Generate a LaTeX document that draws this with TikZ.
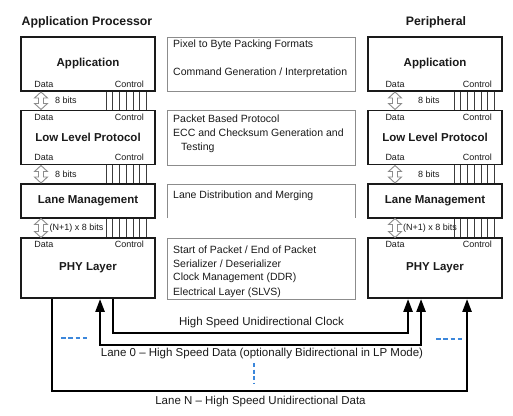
\documentclass[tikz,border=0pt]{standalone}
\usepackage{fontspec}
\setmainfont{Liberation Sans}
\usetikzlibrary{arrows.meta,calc}
\definecolor{ink}{HTML}{1A1A1A}
\definecolor{midgray}{HTML}{8C8C8C}
\definecolor{dashblue}{HTML}{3C87DB}
% hollow double arrow: center x, top y, bottom y
\newcommand\hollowarr[3]{%
  \draw[harr] (#1,#2) -- ++(6.5,6) -- ++(-4,0) -- (#1+2.5,#3-6) -- ++(4,0) -- (#1,#3)
    -- ++(-6.5,-6) -- ++(4,0) -- (#1-2.5,#2+6) -- ++(-4,0) -- cycle;}
\begin{document}
\begin{tikzpicture}[x=1pt,y=-1pt,
  blk/.style={draw=ink,line width=1.9pt,fill=white,minimum width=134pt,inner sep=0pt,
     font=\fontsize{11.5}{13}\selectfont\bfseries,text=ink},
  midbox/.style={draw=midgray,line width=0.9pt},
  mtxt/.style={anchor=west,inner sep=0pt,font=\fontsize{10.5}{12}\selectfont,text=ink},
  small/.style={inner sep=0pt,font=\fontsize{9}{10}\selectfont,text=ink},
  ttl/.style={inner sep=0pt,font=\fontsize{12.3}{14}\selectfont\bfseries,text=ink},
  btxt/.style={inner sep=0pt,font=\fontsize{11.5}{13}\selectfont,text=ink},
  harr/.style={draw=midgray,fill=white,line width=0.9pt,line join=miter},
  ctl/.style={draw=ink!85,line width=0.8pt},
  conn/.style={draw=black,line width=2.4pt},
  tip/.tip={Triangle[length=13pt,width=9pt]},
  bdash/.style={draw=dashblue,line width=2pt,dash pattern=on 4.5pt off 2.8pt}
]
\useasboundingbox[fill=white] (0,0) rectangle (513,415);

% titles
\node[ttl] (tAP) at (87,22) {Application Processor};
\node[ttl] (tPer) at (436,22) {Peripheral};

% left column
\node[blk,minimum height=54pt] (appL) at (88,64) {Application};
\node[blk,minimum height=54pt] (llpL) at (88,137.5) {Low Level Protocol};
\node[blk,minimum height=34pt] (lmL) at (88,201) {Lane Management};
\node[blk,minimum height=60pt] (phyL) at (88,268) {PHY Layer};

% right column
\node[blk,minimum height=54pt] (appR) at (435,64) {Application};
\node[blk,minimum height=54pt] (llpR) at (435,137.5) {Low Level Protocol};
\node[blk,minimum height=34pt] (lmR) at (435,201) {Lane Management};
\node[blk,minimum height=60pt] (phyR) at (435,268) {PHY Layer};

% middle description boxes
\draw[midbox] (167,37) rectangle (355,91);
\draw[midbox] (167,110) rectangle (355,165);
\draw[midbox] (167,218) -- (167,184) -- (355,184) -- (355,218);
\draw[midbox] (167,238) rectangle (355,299);

\node[mtxt] (m1a) at (173,45) {Pixel to Byte Packing Formats};
\node[mtxt] (m1b) at (173,72.5) {Command Generation / Interpretation};
\node[mtxt] (m2a) at (173,118.5) {Packet Based Protocol};
\node[mtxt] (m2b) at (173,133) {ECC and Checksum Generation and};
\node[mtxt] (m2c) at (181,147.5) {Testing};
\node[mtxt] (m3a) at (173,196) {Lane Distribution and Merging};
\node[mtxt] (m4a) at (173,250) {Start of Packet / End of Packet};
\node[mtxt] (m4b) at (173,264) {Serializer / Deserializer};
\node[mtxt] (m4c) at (173,278) {Clock Management (DDR)};
\node[mtxt] (m4d) at (173,292.5) {Electrical Layer (SLVS)};

% Data / Control labels, left
\node[small] (d1L) at (44,84) {Data};
\node[small,anchor=east] (c1L) at (144,84) {Control};
\node[small] (d2L) at (44,117.5) {Data};
\node[small,anchor=east] (c2L) at (144,117.5) {Control};
\node[small] (d3L) at (44,157.5) {Data};
\node[small,anchor=east] (c3L) at (144,157.5) {Control};
\node[small] (d4L) at (44,244.5) {Data};
\node[small,anchor=east] (c4L) at (144,244.5) {Control};
% right
\node[small] (d1R) at (395,84) {Data};
\node[small,anchor=east] (c1R) at (492,84) {Control};
\node[small] (d2R) at (395,117.5) {Data};
\node[small,anchor=east] (c2R) at (492,117.5) {Control};
\node[small] (d3R) at (395,157.5) {Data};
\node[small,anchor=east] (c3R) at (492,157.5) {Control};
\node[small] (d4R) at (395,244.5) {Data};
\node[small,anchor=east] (c4R) at (492,244.5) {Control};

% control line bundles
\foreach \i in {0,...,6} {
  \draw[ctl] ($(appL.south west)+(86+6.75*\i,0)$) -- ($(llpL.north west)+(86+6.75*\i,0)$);
  \draw[ctl] ($(llpL.south west)+(86+6.75*\i,0)$) -- ($(lmL.north west)+(86+6.75*\i,0)$);
  \draw[ctl] ($(lmL.south west)+(86+6.75*\i,0)$) -- ($(phyL.north west)+(86+6.75*\i,0)$);
  \draw[ctl] ($(appR.south west)+(87+6.75*\i,0)$) -- ($(llpR.north west)+(87+6.75*\i,0)$);
  \draw[ctl] ($(llpR.south west)+(87+6.75*\i,0)$) -- ($(lmR.north west)+(87+6.75*\i,0)$);
}

% hollow data arrows
\hollowarr{41}{92}{109.5}
\hollowarr{41}{165.5}{183}
\hollowarr{41}{218.5}{237.5}
\hollowarr{395}{92}{109.5}
\hollowarr{395}{165.5}{183}
\hollowarr{395}{218.5}{237.5}

\node[small,anchor=west] (b1L) at (55,100.5) {8 bits};
\node[small,anchor=west] (b2L) at (55,174) {8 bits};
\node[small,anchor=west] (b3L) at (49.5,228) {(N+1) x 8 bits};
\node[small,anchor=west] (b1R) at (418,100.5) {8 bits};
\node[small,anchor=west] (b2R) at (418,174) {8 bits};
\node[small,anchor=west] (b3R) at (403,228) {(N+1) x 8 bits};
% control lines over the right label
\foreach \i in {0,...,6} {
  \draw[ctl] ($(lmR.south west)+(87+6.75*\i,0)$) -- ($(phyR.north west)+(87+6.75*\i,0)$);
}

% link end points
\coordinate (nL) at ($(phyL.south west)+(32,0)$);
\coordinate (zL) at ($(phyL.south west)+(80,0)$);
\coordinate (cL) at ($(phyL.south west)+(93,0)$);
\coordinate (cR) at ($(phyR.south west)+(41,0)$);
\coordinate (zR) at ($(phyR.south west)+(54,0)$);
\coordinate (nR) at ($(phyR.south west)+(100,0)$);

\draw[conn,-tip] (cL) -- ++(0,34) -| (cR);
\draw[conn,tip-tip] (zL) -- ++(0,46) -| (zR);
\draw[conn,-tip] (nL) -- ++(0,92) -| (nR);

\node[btxt] (lblC) at (261.5,322.5) {High Speed Unidirectional Clock};
\node[btxt] (lbl0) at (262,354) {Lane 0 -- High Speed Data (optionally Bidirectional in LP Mode)};
\node[btxt] (lblN) at (260.5,401.5) {Lane N -- High Speed Unidirectional Data};

% blue dashed ellipses
\draw[bdash] (61,338) -- (89,338);
\draw[bdash] (436,339) -- (464,339);
\draw[draw=dashblue,line width=2pt,dash pattern=on 4pt off 2.5pt] (254,363) -- (254,383);
\end{tikzpicture}
\end{document}
